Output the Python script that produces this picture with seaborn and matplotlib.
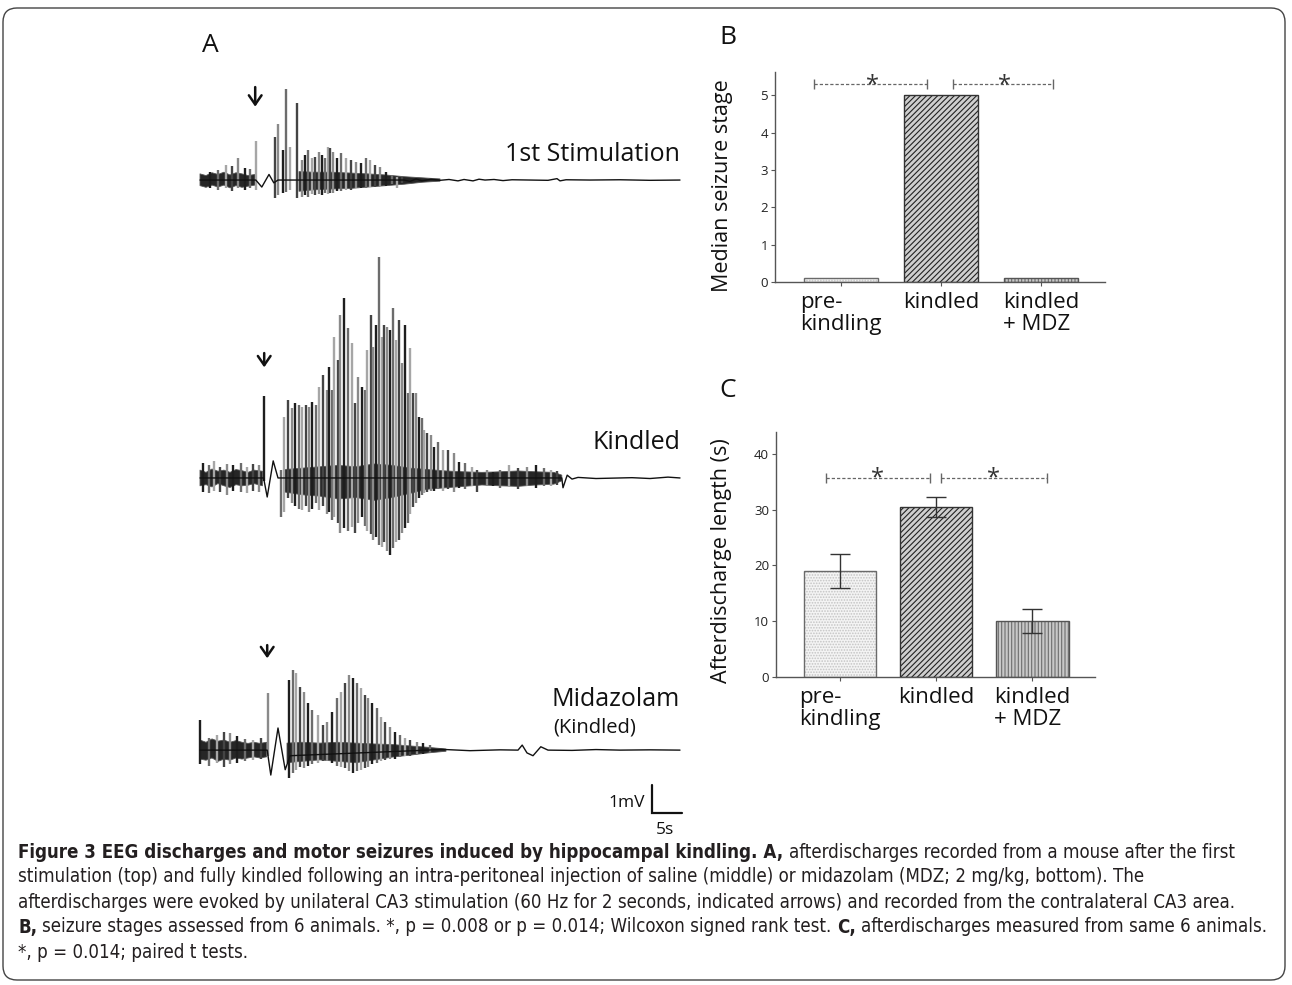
import numpy as np
import matplotlib
matplotlib.use('Agg')
import matplotlib.pyplot as plt
from matplotlib import font_manager
from matplotlib.patches import FancyBboxPatch, Rectangle
from matplotlib.transforms import IdentityTransform
import seaborn as sns

nan = np.nan

# ---------------- panel B / C ----------------
groups = ['pre-\nkindling', 'kindled', 'kindled\n+ MDZ']
seizure_stage = [0.1, 5.0, 0.1]
ad_length = [19.0, 30.5, 10.0]
ad_sem = [3.0, 1.8, 2.2]

# ---------------- panel A: EEG traces (time in s, amplitude in mV) ----------------
# 1st stimulation
t1_line_t = [0, 9.3, 10.3, 11.5, 12.3, 13.0, 34.0, 35.0, 36.0, 37.0, 38.5, 40.0, 41.5, 43.0, 44.0,
             45.5, 46.5, 47.5, 49.0, 50.5, 52.0, 55.0, 58.0, 59.5, 60.0, 61.0, 65.0, 70.0, 75.0, 80.0]
t1_line_v = [0, 0, -0.25, 0.2, -0.1, 0, 0, -0.05, 0.04, -0.03, 0.03, -0.01, 0.02, -0.03, 0.02,
             -0.03, 0.03, 0.0, 0.02, -0.02, 0.01, 0.0, -0.01, 0.05, -0.03, 0.01, 0.0, 0.01, -0.01, 0.0]
t1_band_t = [0, 1, 2, 3, 4, 5, 6, 7, 8, 9.2, nan, 16.5, 19, 22, 25, 28, 31, 34, 37, 40]
t1_band_hi = [0.22, 0.16, 0.26, 0.2, 0.28, 0.18, 0.26, 0.22, 0.16, 0.2, nan,
              0.3, 0.28, 0.28, 0.25, 0.22, 0.18, 0.12, 0.08, 0.04]
t1_band_lo = [-0.2, -0.26, -0.18, -0.25, -0.18, -0.28, -0.2, -0.26, -0.22, -0.18, nan,
              -0.4, -0.35, -0.32, -0.3, -0.25, -0.2, -0.15, -0.08, -0.04]
t1_spk_t = [1.7, 3.0, 4.3, 5.3, 6.3, 7.5, 8.3, 9.33, 12.5, 13.0,
            13.8, 14.33, 15.0, 16.17, 17.0, 17.5, 18.0, 18.7, 19.2, 19.8,
            20.3, 20.8, 21.3, 21.7, 22.2, 22.8, 23.5, 24.3, 25.2, 26.0,
            26.8, 27.7, 28.3, 29.2, 30.0, 31.0, 32.0, 32.8, 33.7]
t1_spk_hi = [0.29, 0.36, 0.54, 0.5, 0.79, 0.43, 0.4, 1.39, 1.54, 2.0,
             1.07, 3.25, 1.18, 2.75, 0.71, 0.89, 1.07, 0.79, 0.82, 1.0,
             0.89, 0.79, 1.18, 1.14, 1.0, 0.79, 0.96, 0.79, 0.71, 0.64,
             0.61, 0.79, 0.71, 0.54, 0.46, 0.29, 0.18, 0.11, 0.11]
t1_spk_lo = [-0.3, -0.35, -0.3, -0.4, -0.3, -0.35, -0.3, -0.36, -0.64, -0.54,
             -0.46, -0.43, -0.36, -0.64, -0.6, -0.55, -0.6, -0.5, -0.55, -0.5,
             -0.55, -0.45, -0.5, -0.45, -0.45, -0.4, -0.4, -0.35, -0.35, -0.3,
             -0.3, -0.3, -0.25, -0.25, -0.2, -0.2, -0.15, -0.3, -0.1]

# Kindled
t2_line_t = [0, 10.6, 11.2, 12.2, 13.0, 60.3, 60.5, 61.2, 62.0, 63.0, 66.0, 70.0, 72.0, 75.0, 78.0, 80.0]
t2_line_v = [0, 0, -0.68, 0.61, 0, 0, -0.35, 0.1, -0.04, 0.02, -0.02, 0.0, 0.01, -0.02, 0.03, 0.0]
t2_band_t = [0, 1, 2, 3, 4, 5, 6, 7, 8, 9, 10.4, nan,
             14, 17, 20, 23, 26, 29, 32, 35, 38, 41, 44, 47, 50, 53, 56, 59, 60.3]
t2_band_hi = [0.28, 0.2, 0.32, 0.24, 0.28, 0.2, 0.3, 0.26, 0.2, 0.28, 0.24, nan,
              0.3, 0.35, 0.4, 0.45, 0.4, 0.5, 0.45, 0.35, 0.3, 0.25, 0.22, 0.2, 0.22, 0.25, 0.22, 0.2, 0.1]
t2_band_lo = [-0.28, -0.24, -0.32, -0.2, -0.28, -0.34, -0.24, -0.28, -0.26, -0.2, -0.28, nan,
              -0.5, -0.6, -0.65, -0.75, -0.7, -0.8, -0.7, -0.55, -0.4, -0.35, -0.3, -0.25, -0.28, -0.3,
              -0.25, -0.22, -0.1]
t2_spk_t = [0.5, 1.5, 2.3, 3.3, 4.5, 5.5, 6.8, 7.8, 8.8, 9.8,
            10.67, 13.5, 14.0, 14.7, 15.3, 15.8, 16.5, 17.0, 17.7, 18.2,
            18.7, 19.3, 19.8, 20.5, 21.2, 21.5, 22.0, 22.3, 23.0, 23.3,
            24.0, 24.7, 25.3, 25.8, 26.3, 27.0, 27.5, 27.8, 28.5, 28.8,
            29.3, 29.8, 30.3, 30.7, 31.2, 31.7, 32.2, 32.7, 33.2, 33.7,
            34.2, 34.7, 35.0, 35.5, 36.0, 36.5, 37.0, 37.3, 37.8, 38.5,
            39.0, 39.7, 40.5, 41.3, 42.3, 43.2, 44.2, 45.3, 46.2, 47.8,
            48.8, 50.0, 51.5, 53.0, 54.5, 56.0, 57.3, 58.5, 59.5]
t2_spk_hi = [0.55, 0.45, 0.6, 0.4, 0.5, 0.45, 0.55, 0.4, 0.5, 0.45,
             2.93, 0.3, 2.18, 2.79, 2.5, 2.68, 2.61, 2.54, 2.61, 2.54,
             2.71, 2.61, 3.25, 3.68, 3.14, 3.96, 3.14, 5.04, 4.21, 5.82,
             6.43, 5.36, 4.82, 2.68, 3.61, 3.25, 3.14, 4.57, 5.82, 4.68,
             5.46, 7.89, 5.04, 5.46, 5.39, 5.29, 6.07, 4.93, 5.64, 4.11,
             5.46, 3.04, 4.64, 3.04, 3.04, 2.18, 2.14, 1.71, 1.61, 1.54,
             1.11, 1.29, 1.0, 1.0, 0.89, 0.57, 0.54, 0.39, 0.29, 0.29,
             0.21, 0.3, 0.45, 0.35, 0.4, 0.45, 0.35, 0.3, 0.25]
t2_spk_lo = [-0.5, -0.55, -0.45, -0.5, -0.6, -0.45, -0.5, -0.55, -0.45, -0.5,
             -0.1, -1.39, -1.2, -0.7, -0.9, -1.0, -1.1, -1.14, -1.0, -1.2,
             -1.1, -0.9, -1.14, -1.0, -1.3, -1.2, -1.5, -1.4, -1.6, -1.96,
             -1.8, -1.9, -1.75, -1.96, -1.6, -1.4, -1.7, -1.9, -2.0, -2.2,
             -2.1, -2.4, -2.46, -2.3, -2.6, -2.75, -2.5, -2.3, -2.2, -1.96,
             -1.8, -1.6, -1.3, -1.04, -0.9, -0.7, -0.6, -0.55, -0.5, -0.45,
             -0.45, -0.4, -0.45, -0.4, -0.5, -0.35, -0.4, -0.3, -0.5, -0.3,
             -0.3, -0.35, -0.3, -0.4, -0.3, -0.35, -0.3, -0.3, -0.25]

# Midazolam (kindled)
t3_line_t = [0, 11.2, 11.8, 13.0, 14.2, 15.0, 38.0, 40.0, 45.0, 50.0, 53.0, 53.7, 54.5, 55.5,
             56.8, 58.0, 62.0, 66.0, 70.0, 75.0, 80.0]
t3_line_v = [0, 0, -0.89, 0.79, -0.7, -0.2, 0, 0.03, -0.02, 0.01, 0.0, 0.18, -0.1, -0.2,
             0.12, 0.0, -0.01, 0.02, 0.0, 0.01, 0.0]
t3_band_t = [0, 1, 2, 3, 4, 5, 6, 7, 8, 9, 10, 11.1, nan, 14.5, 17, 20, 23, 26, 29, 32, 35, 38, 41]
t3_band_hi = [0.36, 0.28, 0.4, 0.32, 0.36, 0.28, 0.34, 0.28, 0.24, 0.28, 0.24, 0.28, nan,
              0.25, 0.28, 0.25, 0.28, 0.25, 0.22, 0.2, 0.15, 0.1, 0.04]
t3_band_lo = [-0.32, -0.36, -0.28, -0.4, -0.32, -0.36, -0.28, -0.32, -0.28, -0.24, -0.28, -0.24, nan,
              -0.45, -0.4, -0.35, -0.4, -0.45, -0.35, -0.25, -0.18, -0.1, -0.04]
t3_spk_t = [0.0, 1.5, 2.8, 4.0, 5.0, 6.2, 7.5, 8.8, 10.2, 11.3,
            14.8, 15.5, 16.0, 16.7, 17.3, 18.0, 18.7, 19.7, 20.5, 21.2,
            22.0, 22.8, 23.5, 24.2, 24.8, 25.5, 26.2, 26.8, 27.5, 28.0,
            28.7, 29.5, 30.2, 30.8, 31.7, 32.5, 33.3, 34.2, 35.0, 36.2,
            37.2, 38.3]
t3_spk_hi = [1.07, 0.45, 0.55, 0.64, 0.6, 0.5, 0.4, 0.36, 0.45, 2.04,
             2.5, 2.86, 2.75, 2.25, 2.07, 1.68, 1.43, 1.25, 0.89, 1.0,
             1.36, 1.86, 2.07, 2.39, 2.68, 2.57, 2.39, 2.21, 1.96, 1.86,
             1.68, 1.5, 1.18, 1.0, 0.82, 0.64, 0.54, 0.43, 0.36, 0.29,
             0.25, 0.18]
t3_spk_lo = [-0.5, -0.55, -0.45, -0.6, -0.5, -0.45, -0.4, -0.35, -0.3, -0.2,
             -1.0, -0.8, -0.7, -0.6, -0.65, -0.55, -0.5, -0.45, -0.4, -0.4,
             -0.45, -0.55, -0.6, -0.65, -0.75, -0.8, -0.75, -0.7, -0.65, -0.6,
             -0.5, -0.45, -0.4, -0.35, -0.3, -0.3, -0.25, -0.2, -0.2, -0.15,
             -0.15, -0.1]

stim_t = [9.2, 10.7, 11.2]
trace_names = ['1st Stimulation', 'Kindled', 'Midazolam']

caption_lines = [
    [('Figure 3 EEG discharges and motor seizures induced by hippocampal kindling. A,', True),
     ('afterdischarges recorded from a mouse after the first', False)],
    [('stimulation (top) and fully kindled following an intra-peritoneal injection of saline (middle) '
      'or midazolam (MDZ; 2 mg/kg, bottom). The', False)],
    [('afterdischarges were evoked by unilateral CA3 stimulation (60 Hz for 2 seconds, indicated arrows) '
      'and recorded from the contralateral CA3 area.', False)],
    [('B,', True),
     ('seizure stages assessed from 6 animals. *, p = 0.008 or p = 0.014; Wilcoxon signed rank test.', False),
     ('C,', True),
     ('afterdischarges measured from same 6 animals.', False)],
    [('*, p = 0.014; paired t tests.', False)],
]

# ---------------- style ----------------
sns.set_theme(style='white')
plt.rcParams['font.family'] = ['Open Sans', 'DejaVu Sans']
plt.rcParams['hatch.linewidth'] = 0.8

W, H = 1292, 985
fig = plt.figure(figsize=(W / 100, H / 100), dpi=100)


def px_axes(left, top, right, bottom):
    return fig.add_axes([left / W, 1 - bottom / H, (right - left) / W, (bottom - top) / H])


# ---------------- panel A ----------------
axA = px_axes(190, 60, 690, 840)
axA.set_xlim(-10 / 6, 490 / 6)   # 6 px per second
axA.set_ylim(0, 780 / 28)        # 28 px per mV
axA.axis('off')

spike_greys = ['#1e1e1e', '#6c6c6c', '#a6a6a6', '#444444', '#8a8a8a']
trace_base = [23.57, 12.93, 3.21]
traces = [
    (t1_line_t, t1_line_v, t1_band_t, t1_band_hi, t1_band_lo, t1_spk_t, t1_spk_hi, t1_spk_lo),
    (t2_line_t, t2_line_v, t2_band_t, t2_band_hi, t2_band_lo, t2_spk_t, t2_spk_hi, t2_spk_lo),
    (t3_line_t, t3_line_v, t3_band_t, t3_band_hi, t3_band_lo, t3_spk_t, t3_spk_hi, t3_spk_lo),
]

for base, (lt, lv, bt, bhi, blo, st, shi, slo) in zip(trace_base, traces):
    axA.fill_between(bt, base + np.array(bhi), base + np.array(blo), color='#262626', lw=0.6,
                     edgecolor='#555555')
    cols = [spike_greys[i % len(spike_greys)] for i in range(len(st))]
    axA.vlines(st, base + np.array(slo), base + np.array(shi), colors=cols, lw=1.7)
    sns.lineplot(x=lt, y=base + np.array(lv), sort=False, estimator=None,
                 color='#111111', lw=1.0, ax=axA)

# stimulus arrows
arrow_tail = [3.32, 4.46, 3.75]
arrow_head = [2.62, 3.95, 3.28]
for base, t, a0, a1 in zip(trace_base, stim_t, arrow_tail, arrow_head):
    axA.annotate('', xy=(t, base + a1), xytext=(t, base + a0),
                 arrowprops=dict(arrowstyle='->,head_length=0.55,head_width=0.38', lw=1.8,
                                 color='#111', shrinkA=0, shrinkB=0))

label_off = [0.93, 1.25, 1.79]
for base, name, off in zip(trace_base, trace_names, label_off):
    axA.text(80, base + off, name, ha='right', va='center', fontsize=18, color='#111')
axA.text(58.8, trace_base[2] + 0.82, '(Kindled)', ha='left', va='center', fontsize=14.5, color='#111')

# scale bar 1 mV / 5 s
sb_t, sb_y = 75.3, 0.96
axA.plot([sb_t, sb_t, sb_t + 5], [sb_y + 1, sb_y, sb_y], color='#111', lw=1.6, solid_joinstyle='miter')
axA.text(sb_t - 1.2, sb_y + 0.36, '1mV', ha='right', va='center', fontsize=12.5, color='#111')
axA.text(sb_t + 2.2, sb_y - 0.6, '5s', ha='center', va='center', fontsize=12.5, color='#111')

# ---------------- panels B and C ----------------
bar_face = {'pre-\nkindling': '#f4f4f4', 'kindled': '#cfcfcf', 'kindled\n+ MDZ': '#c8c8c8'}
bar_hatch = ['......', '//////', '|||||']
bar_hatch_col = ['#c4c4c4', '#222222', '#6e6e6e']
bar_edge = ['#6a6a6a', '#333333', '#555555']


def bar_panel(ax, values, width, xlim, ylim, yticks, ylabel, label_xy):
    sns.barplot(x=groups, y=values, hue=groups, palette=bar_face, width=width, legend=False,
                errorbar=None, ax=ax, zorder=2)
    for p, hatch, hcol, ecol in zip(list(ax.patches), bar_hatch, bar_hatch_col, bar_edge):
        p.set_hatch(hatch)
        p.set_edgecolor(hcol)
        p.set_linewidth(0)
        ax.add_patch(Rectangle(p.get_xy(), p.get_width(), p.get_height(), fill=False,
                               ec=ecol, lw=1.0, zorder=3))
    ax.set_xlim(*xlim)
    ax.set_ylim(*ylim)
    ax.set_yticks(yticks)
    sns.despine(ax=ax)
    for s in ['left', 'bottom']:
        ax.spines[s].set_color('#555555')
        ax.spines[s].set_linewidth(1.0)
    ax.tick_params(axis='y', direction='out', length=3, width=0.8, color='#555555',
                   labelsize=9.5, labelcolor='#222222', pad=2, left=True)
    ax.tick_params(axis='x', direction='out', length=3, width=0.8, color='#555555',
                   labelsize=16, labelcolor='#111111', pad=4, bottom=True)
    for lbl in ax.get_xticklabels():
        lbl.set_multialignment('left')
        lbl.set_linespacing(1.05)
        lbl.set_verticalalignment('top')
    ax.set_xlabel('')
    ax.set_ylabel(ylabel, fontsize=15.5, color='#111111')
    ax.yaxis.set_label_coords(*label_xy)
    ax.set_facecolor('none')


def bracket(ax, x0, x1, y, star_x):
    ax.plot([x0, x1], [y, y], ls=(0, (2.6, 1.6)), lw=0.9, color='#666666')
    ax.plot([x0, x1], [y, y], ls='none', marker='|', ms=7, mew=1.0, color='#666666')
    ax.annotate('*', (star_x, y), xytext=(0, -5), textcoords='offset points',
                ha='center', va='baseline', fontsize=17, color='#333333')


axB = px_axes(775, 72, 1105, 282)
bar_panel(axB, seizure_stage, 0.74, (-0.66, 2.64), (0, 5.62), range(0, 6),
          'Median seizure stage', (-0.127, 0.457))
bracket(axB, -0.27, 0.86, 5.29, 0.31)
bracket(axB, 1.12, 2.12, 5.29, 1.63)

axC = px_axes(776, 432, 1095, 677)
bar_panel(axC, ad_length, 0.75, (-0.665, 2.65), (0, 43.9), [0, 10, 20, 30, 40],
          'Afterdischarge length (s)', (-0.138, 0.473))
axC.errorbar(x=np.arange(len(groups)), y=ad_length, yerr=ad_sem, fmt='none', ecolor='#333333',
             elinewidth=1.0, capsize=7.5, capthick=1.0, zorder=5)
bracket(axC, -0.15, 0.94, 35.7, 0.39)
bracket(axC, 1.05, 2.15, 35.7, 1.6)

# panel letters
for letter, (x, y) in zip('ABC', [(210, 45), (728, 38), (728, 390)]):
    fig.text(x / W, 1 - y / H, letter, ha='center', va='center', fontsize=19, color='#111')

# ---------------- caption ----------------
ttf = font_manager.fontManager.ttflist
names = {f.name for f in ttf}
if 'Liberation Sans Narrow' in names:
    cap_family, cap_stretch = 'Liberation Sans Narrow', 'normal'
elif any(f.name == 'DejaVu Sans' and 'condensed' in str(f.stretch) for f in ttf):
    cap_family, cap_stretch = 'DejaVu Sans', 'condensed'
elif 'Roboto Condensed' in names:
    cap_family, cap_stretch = 'Roboto Condensed', 'normal'
else:
    cap_family, cap_stretch = 'Liberation Sans', 'normal'

renderer = fig.canvas.get_renderer()


def text_width(s, size, bold=False):
    t = fig.text(0, 0, s, fontsize=size, family=cap_family, fontstretch=cap_stretch,
                 weight='bold' if bold else 'normal')
    w = t.get_window_extent(renderer).width
    t.remove()
    return w


def line_width(runs, size):
    sp = text_width('a a', size) - text_width('aa', size)
    return sum(text_width(txt, size, bold) for txt, bold in runs) + sp * (len(runs) - 1)


# fit the widest caption line into the frame
cap_size = 10 * 1255 / max(line_width(r, 10) for r in caption_lines)
space_w = text_width('a a', cap_size) - text_width('aa', cap_size)

for i, runs in enumerate(caption_lines):
    x = 18
    y = 852 + 25 * i
    for j, (txt, bold) in enumerate(runs):
        if j > 0:
            x += space_w
        t = fig.text(x / W, 1 - y / H, txt, fontsize=cap_size, family=cap_family,
                     fontstretch=cap_stretch, weight='bold' if bold else 'normal',
                     ha='left', va='center', color='#231f20')
        x += t.get_window_extent(renderer).width

# rounded frame around figure + caption
fig.add_artist(FancyBboxPatch((3, 5), 1282, 972, boxstyle='round,pad=0,rounding_size=14',
                              transform=IdentityTransform(), fill=False, ec='#444444', lw=1.0))

fig.savefig('out.png', dpi=100, facecolor='white')
